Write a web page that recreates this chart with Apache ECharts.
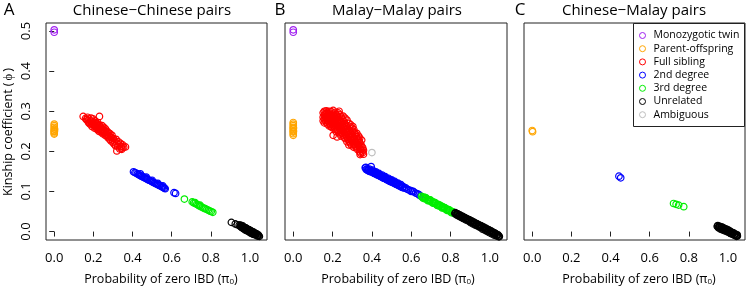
<!DOCTYPE html>
<html><head><meta charset="utf-8">
<script src="https://cdn.jsdelivr.net/npm/echarts@6/dist/echarts.min.js"></script>
<style>html,body{margin:0;padding:0;background:#fff}#c{width:747px;height:289px}</style>
</head><body><div id="c"></div>
<script>
// ---- data: [pi0, phi] pairs ----
const xTicks = [0, 0.2, 0.4, 0.6, 0.8, 1.0];
const yTicks = [0, 0.1, 0.2, 0.3, 0.4, 0.5];
const classNames = ['Monozygotic twin','Parent-offspring','Full sibling','2nd degree','3rd degree','Unrelated','Ambiguous'];
const classColors = ['#A020F0','#FFA500','#FF0000','#0000FF','#00EE00','#000000','#BEBEBE'];
const panelTitles = ['Chinese\u2212Chinese pairs','Malay\u2212Malay pairs','Chinese\u2212Malay pairs'];
const panelLetters = ['A','B','C'];

const A_mz = [[0,0.503],[0,0.497]];
const A_po = [[0,0.268],[0,0.264],[0,0.260],[0,0.256],[0,0.252],[0,0.249],[0,0.246],[0,0.243],[0.001,0.250],[0.002,0.255]];
const A_full = [[0.148,0.287],[0.165,0.279],[0.170,0.285],[0.175,0.272],[0.178,0.280],[0.182,0.268],[0.185,0.276],[0.188,0.283],[0.190,0.270],[0.193,0.262],[0.195,0.275],[0.198,0.281],[0.200,0.266],[0.203,0.272],[0.205,0.258],[0.208,0.268],[0.210,0.276],[0.212,0.262],[0.215,0.270],[0.218,0.255],[0.220,0.265],[0.222,0.272],[0.225,0.260],[0.228,0.250],[0.230,0.266],[0.232,0.256],[0.235,0.262],[0.231,0.287],[0.238,0.248],[0.240,0.258],[0.243,0.252],[0.245,0.264],[0.248,0.244],[0.250,0.254],[0.253,0.260],[0.255,0.246],[0.258,0.252],[0.260,0.240],[0.262,0.256],[0.265,0.246],[0.268,0.238],[0.270,0.250],[0.273,0.242],[0.275,0.234],[0.278,0.246],[0.280,0.238],[0.283,0.230],[0.285,0.244],[0.288,0.236],[0.290,0.226],[0.293,0.234],[0.295,0.240],[0.298,0.228],[0.300,0.222],[0.303,0.232],[0.306,0.218],[0.310,0.226],[0.313,0.214],[0.316,0.230],[0.320,0.220],[0.324,0.212],[0.328,0.224],[0.332,0.216],[0.335,0.206],[0.338,0.220],[0.342,0.212],[0.346,0.208],[0.350,0.216],[0.355,0.210],[0.364,0.211],[0.320,0.201],[0.345,0.205],[0.160,0.282],[0.172,0.276],[0.183,0.271],[0.196,0.268],[0.206,0.263],[0.217,0.259],[0.227,0.255],[0.236,0.251],[0.252,0.248],[0.263,0.243]];
const A_second = [[0.405,0.149],[0.412,0.147],[0.418,0.146],[0.425,0.144],[0.430,0.142],[0.436,0.141],[0.441,0.139],[0.446,0.138],[0.452,0.137],[0.457,0.135],[0.462,0.134],[0.468,0.133],[0.473,0.131],[0.478,0.130],[0.484,0.128],[0.490,0.127],[0.495,0.126],[0.500,0.124],[0.506,0.123],[0.512,0.121],[0.518,0.120],[0.524,0.118],[0.530,0.117],[0.536,0.115],[0.542,0.114],[0.548,0.112],[0.553,0.111],[0.558,0.110],[0.563,0.108],[0.567,0.107],[0.612,0.097],[0.620,0.095],[0.440,0.144],[0.470,0.136],[0.500,0.128],[0.530,0.120],[0.555,0.114]];
const A_third = [[0.665,0.081],[0.705,0.074],[0.712,0.072],[0.720,0.070],[0.728,0.068],[0.735,0.066],[0.742,0.064],[0.750,0.062],[0.758,0.060],[0.765,0.058],[0.772,0.057],[0.780,0.055],[0.788,0.053],[0.795,0.051],[0.802,0.050],[0.810,0.048],[0.720,0.072],[0.745,0.066]];
const A_unrel = [[0.905,0.023],[0.925,0.019],[0.935,0.017],[0.945,0.016],[0.950,0.013],[0.955,0.014],[0.958,0.010],[0.962,0.012],[0.965,0.009],[0.968,0.011],[0.972,0.007],[0.975,0.009],[0.978,0.005],[0.980,0.008],[0.983,0.004],[0.986,0.006],[0.990,0.002],[0.992,0.005],[0.995,0.001],[0.998,0.003],[1.002,-0.001],[1.005,0.001],[1.008,-0.003],[1.012,-0.001],[1.015,-0.005],[1.018,-0.003],[1.022,-0.006],[1.025,-0.004],[1.030,-0.008],[1.035,-0.007],[1.040,-0.010],[1.045,-0.011],[1.048,-0.012],
  [0.952,0.016],[0.957,0.011],[0.963,0.014],[0.967,0.007],[0.971,0.010],[0.976,0.004],[0.979,0.009],[0.984,0.002],[0.988,0.006],[0.993,0.000],[0.997,0.004],[1.001,-0.003],[1.004,0.002],[1.009,-0.005],[1.013,0.000],[1.017,-0.007],[1.020,-0.002],[1.027,-0.008],[1.032,-0.005],[1.038,-0.011],[1.042,-0.008]];

const B_mz = [[0,0.503],[0,0.497]];
const B_po = [[0,0.272],[0,0.268],[0,0.264],[0,0.260],[0,0.256],[0,0.252],[0,0.248],[0,0.244],[0,0.240],[0.001,0.258],[0.001,0.250]];
const B_full = [[0.152,0.296],[0.152,0.285],[0.152,0.276],[0.158,0.300],[0.158,0.290],[0.158,0.281],[0.158,0.271],[0.163,0.294],[0.163,0.286],[0.163,0.277],[0.168,0.301],[0.168,0.292],[0.168,0.283],[0.168,0.273],[0.173,0.297],[0.173,0.288],[0.173,0.279],[0.173,0.268],[0.178,0.293],[0.178,0.284],[0.178,0.275],[0.183,0.300],[0.183,0.290],[0.183,0.281],[0.183,0.271],[0.183,0.263],[0.188,0.295],[0.188,0.286],[0.188,0.277],[0.188,0.267],[0.193,0.299],[0.193,0.291],[0.193,0.282],[0.193,0.272],[0.193,0.262],[0.198,0.287],[0.198,0.278],[0.198,0.269],[0.198,0.259],[0.203,0.302],[0.203,0.293],[0.203,0.283],[0.203,0.274],[0.203,0.264],[0.203,0.240],[0.208,0.289],[0.208,0.280],[0.208,0.270],[0.208,0.258],[0.213,0.297],[0.213,0.285],[0.213,0.276],[0.213,0.266],[0.213,0.254],[0.218,0.292],[0.218,0.281],[0.218,0.271],[0.218,0.261],[0.218,0.249],[0.223,0.288],[0.223,0.277],[0.223,0.267],[0.223,0.256],[0.223,0.236],[0.228,0.296],[0.228,0.284],[0.228,0.273],[0.228,0.262],[0.228,0.252],[0.233,0.300],[0.233,0.279],[0.233,0.269],[0.233,0.258],[0.233,0.247],[0.238,0.291],[0.238,0.275],[0.238,0.264],[0.238,0.253],[0.238,0.243],[0.243,0.286],[0.243,0.271],[0.243,0.260],[0.243,0.249],[0.243,0.238],[0.248,0.282],[0.248,0.266],[0.248,0.256],[0.248,0.245],[0.253,0.288],[0.253,0.278],[0.253,0.262],[0.253,0.251],[0.253,0.241],[0.258,0.274],[0.258,0.258],[0.258,0.247],[0.258,0.236],[0.263,0.283],[0.263,0.269],[0.263,0.254],[0.263,0.243],[0.263,0.232],[0.268,0.265],[0.268,0.250],[0.268,0.239],[0.273,0.278],[0.273,0.261],[0.273,0.246],[0.273,0.235],[0.273,0.224],[0.278,0.257],[0.278,0.242],[0.278,0.230],[0.283,0.270],[0.283,0.253],[0.283,0.238],[0.283,0.226],[0.283,0.216],[0.288,0.262],[0.288,0.249],[0.288,0.234],[0.288,0.222],[0.293,0.266],[0.293,0.245],[0.293,0.230],[0.293,0.218],[0.298,0.258],[0.298,0.241],[0.298,0.227],[0.298,0.214],[0.303,0.262],[0.303,0.250],[0.303,0.237],[0.303,0.223],[0.308,0.254],[0.308,0.233],[0.308,0.219],[0.308,0.210],[0.313,0.246],[0.313,0.229],[0.313,0.216],[0.318,0.241],[0.318,0.225],[0.318,0.212],[0.323,0.245],[0.323,0.236],[0.323,0.221],[0.323,0.208],[0.328,0.231],[0.328,0.217],[0.328,0.204],[0.333,0.238],[0.333,0.227],[0.333,0.213],[0.338,0.233],[0.338,0.222],[0.338,0.209],[0.338,0.199],[0.343,0.218],[0.343,0.205],[0.343,0.195],[0.348,0.228],[0.348,0.213],[0.348,0.201],[0.353,0.209],[0.353,0.197],[0.357,0.203],[0.357,0.193],[0.340,0.192]];
const B_second = [[0.366,0.159],[0.371,0.155],[0.376,0.156],[0.380,0.152],[0.384,0.154],[0.388,0.150],[0.392,0.152],[0.396,0.162],[0.398,0.149],[0.402,0.151],[0.406,0.147],[0.410,0.149],[0.414,0.145],[0.418,0.147],[0.422,0.143],[0.426,0.145],[0.430,0.141],[0.434,0.143],[0.438,0.139],[0.442,0.141],[0.446,0.137],[0.450,0.139],[0.454,0.135],[0.458,0.137],[0.462,0.133],[0.466,0.135],[0.470,0.131],[0.474,0.133],[0.478,0.129],[0.482,0.131],[0.486,0.127],[0.490,0.129],[0.494,0.125],[0.498,0.127],[0.502,0.123],[0.506,0.125],[0.510,0.121],[0.514,0.123],[0.518,0.119],[0.522,0.121],[0.526,0.117],[0.530,0.119],[0.535,0.115],[0.540,0.116],[0.545,0.112],[0.550,0.114],[0.555,0.110],[0.560,0.112],[0.566,0.108],[0.572,0.109],[0.578,0.106],[0.586,0.104],[0.594,0.103],[0.600,0.100],[0.607,0.101],[0.613,0.099],[0.622,0.096],[0.632,0.094],[0.640,0.092],[0.646,0.089],
  [0.369,0.160],[0.378,0.153],[0.387,0.156],[0.395,0.149],[0.404,0.153],[0.412,0.145],[0.420,0.149],[0.428,0.141],[0.436,0.145],[0.444,0.137],[0.452,0.141],[0.460,0.133],[0.468,0.137],[0.476,0.129],[0.484,0.133],[0.492,0.125],[0.500,0.129],[0.508,0.122],[0.516,0.125],[0.524,0.118],[0.532,0.121],[0.540,0.114],[0.548,0.117],[0.556,0.110]];
const B_third = [[0.652,0.088],[0.658,0.085],[0.664,0.086],[0.670,0.082],[0.676,0.083],[0.682,0.079],[0.688,0.080],[0.694,0.076],[0.700,0.077],[0.706,0.073],[0.712,0.074],[0.718,0.070],[0.724,0.071],[0.730,0.067],[0.736,0.068],[0.742,0.064],[0.748,0.065],[0.754,0.061],[0.760,0.062],[0.766,0.058],[0.772,0.059],[0.778,0.055],[0.784,0.056],[0.790,0.052],[0.796,0.053],[0.802,0.049],[0.808,0.050],[0.814,0.046],
  [0.661,0.083],[0.673,0.085],[0.685,0.077],[0.697,0.079],[0.709,0.071],[0.721,0.072],[0.733,0.065],[0.745,0.066],[0.757,0.059],[0.769,0.060],[0.781,0.053],[0.793,0.054],[0.805,0.047],[0.811,0.049]];
const B_unrel = [[0.822,0.045],[0.828,0.043],[0.834,0.044],[0.840,0.040],[0.846,0.041],[0.852,0.037],[0.858,0.038],[0.864,0.034],[0.870,0.035],[0.876,0.031],[0.882,0.032],[0.888,0.028],[0.894,0.029],[0.900,0.025],[0.906,0.026],[0.912,0.022],[0.918,0.023],[0.924,0.019],[0.930,0.020],[0.936,0.016],[0.942,0.017],[0.948,0.013],[0.954,0.014],[0.960,0.010],[0.966,0.011],[0.972,0.007],[0.978,0.008],[0.984,0.004],[0.990,0.005],[0.996,0.001],[1.002,0.002],[1.008,-0.002],[1.014,-0.001],[1.020,-0.005],[1.026,-0.004],[1.032,-0.008],[1.038,-0.008],[1.044,-0.011],[1.048,-0.012],
  [0.825,0.047],[0.831,0.041],[0.837,0.044],[0.843,0.038],[0.849,0.041],[0.855,0.035],[0.861,0.038],[0.867,0.032],[0.873,0.035],[0.879,0.029],[0.885,0.032],[0.891,0.026],[0.897,0.029],[0.903,0.022],[0.909,0.026],[0.915,0.019],[0.921,0.023],[0.927,0.016],[0.933,0.020],[0.939,0.013],[0.945,0.017],[0.951,0.010],[0.957,0.014],[0.963,0.006],[0.969,0.011],[0.975,0.003],[0.981,0.008],[0.987,0.000],[0.993,0.005],[0.999,-0.003],[1.005,0.002],[1.011,-0.006],[1.017,-0.002],[1.023,-0.009],[1.029,-0.005],[1.035,-0.011],[1.041,-0.008],[1.046,-0.013]];
const B_amb = [[0.400,0.197]];

const C_po = [[0,0.252],[0.002,0.249]];
const C_second = [[0.443,0.138],[0.452,0.134]];
const C_third = [[0.722,0.070],[0.735,0.068],[0.748,0.066],[0.774,0.062]];
const C_unrel = [[0.945,0.013],[0.950,0.011],[0.955,0.012],[0.960,0.009],[0.965,0.010],[0.970,0.007],[0.975,0.008],[0.980,0.005],[0.985,0.006],[0.990,0.003],[0.995,0.004],[1.000,0.001],[1.005,0.002],[1.010,-0.002],[1.015,-0.001],[1.020,-0.004],[1.025,-0.004],[1.030,-0.007],[1.035,-0.007],[1.040,-0.009],[1.045,-0.010],[1.048,-0.011],
  [0.948,0.015],[0.953,0.009],[0.958,0.013],[0.963,0.006],[0.968,0.012],[0.973,0.004],[0.978,0.009],[0.983,0.002],[0.988,0.007],[0.993,0.000],[0.998,0.005],[1.003,-0.002],[1.008,0.002],[1.013,-0.005],[1.018,-0.001],[1.023,-0.007],[1.028,-0.003],[1.033,-0.009],[1.038,-0.006],[1.043,-0.012],[1.047,-0.008]];

// per panel: data by class index
const panels = [
  {0:A_mz, 1:A_po, 2:A_full, 3:A_second, 4:A_third, 5:A_unrel},
  {0:B_mz, 1:B_po, 2:B_full, 3:B_second, 4:B_third, 5:B_unrel, 6:B_amb},
  {1:C_po, 3:C_second, 4:C_third, 5:C_unrel}
];

// ---- layout ----
const FONT = 'Open Sans';
const grids = [
  {left:46, top:23, width:221, height:217},
  {left:285, top:23, width:222, height:217},
  {left:524, top:23, width:221, height:217}
];
const X_MIN = -0.042, X_MAX = 1.087, Y_MIN = -0.021, Y_MAX = 0.52;

const xAxes = grids.map((g,i)=>({
  type:'value', gridIndex:i, min:X_MIN, max:X_MAX,
  axisLine:{show:false}, splitLine:{show:false},
  axisTick:{show:true, customValues:xTicks, length:5, lineStyle:{color:'#222', width:1}},
  axisLabel:{show:true, customValues:xTicks, formatter:v=>v.toFixed(1), margin:12, fontFamily:FONT, fontSize:13, color:'#000'}
}));
const yAxes = grids.map((g,i)=>({
  type:'value', gridIndex:i, min:Y_MIN, max:Y_MAX,
  axisLine:{show:false}, splitLine:{show:false},
  axisTick:{show:i===0, customValues:yTicks, length:5, lineStyle:{color:'#222', width:1}},
  axisLabel:{show:i===0, customValues:yTicks, formatter:v=>v.toFixed(1), rotate:90, margin:13, fontFamily:FONT, fontSize:13, color:'#000'}
}));

const series = [];
panels.forEach((p,pi)=>{
  classNames.forEach((name,ci)=>{
    if (!p[ci]) return;
    series.push({
      type:'scatter', name:name, xAxisIndex:pi, yAxisIndex:pi,
      data:p[ci], symbol:'circle', symbolSize:6.5, silent:true,
      itemStyle:{color:'rgba(0,0,0,0)', borderColor:classColors[ci], borderWidth:1.2, opacity:1},
      emphasis:{disabled:true}
    });
  });
});

const graphics = [];
grids.forEach((g,i)=>{
  graphics.push({type:'text', x:[152,397,634][i], y:11, style:{text:panelTitles[i], font:'15px "Open Sans"', fill:'#000', textAlign:'center', textVerticalAlign:'middle'}});
  graphics.push({type:'text', x:[9,280,520][i], y:10, style:{text:panelLetters[i], font:'17px "Open Sans"', fill:'#000', textAlign:'center', textVerticalAlign:'middle'}});
  graphics.push({type:'text', x:[161,398,639][i], y:279, style:{
    text:'{a|Probability of zero IBD (\u03c0}{s|0}{a|)}', textAlign:'center', textVerticalAlign:'middle',
    rich:{a:{fontFamily:FONT, fontSize:12.5, fill:'#000', color:'#000'}, s:{fontFamily:FONT, fontSize:8, fill:'#000', color:'#000', padding:[6,0,0,0]}}
  }});
});
graphics.push({type:'text', x:8, y:132, rotation:Math.PI/2, style:{text:'Kinship coefficient (\u2009\u03d5\u2009)', font:'12.5px "Open Sans"', fill:'#000', textAlign:'center', textVerticalAlign:'middle'}});
graphics.push({type:'rect', shape:{x:633.5, y:23.5, width:111, height:103}, style:{fill:'#fff', stroke:'#222', lineWidth:1}, z:-1});

const chart = echarts.init(document.getElementById('c'), null, {renderer:'canvas'});
chart.setOption({
  animation:false,
  backgroundColor:'#fff',
  grid:grids.map(g=>Object.assign({show:true, borderColor:'#222', borderWidth:1, backgroundColor:'transparent', containLabel:false}, g)),
  xAxis:xAxes, yAxis:yAxes,
  legend:{
    orient:'vertical', left:639, top:29, padding:0, itemGap:0.2,
    itemWidth:12, itemHeight:6, icon:'circle', selectedMode:false,
    textStyle:{fontFamily:FONT, fontSize:10.5, color:'#000', lineHeight:13},
    data:classNames.map((n,i)=>({name:n, itemStyle:{color:'rgba(0,0,0,0)', borderColor:classColors[i], borderWidth:1}}))
  },
  graphic:graphics,
  series:series
});
</script></body></html>
